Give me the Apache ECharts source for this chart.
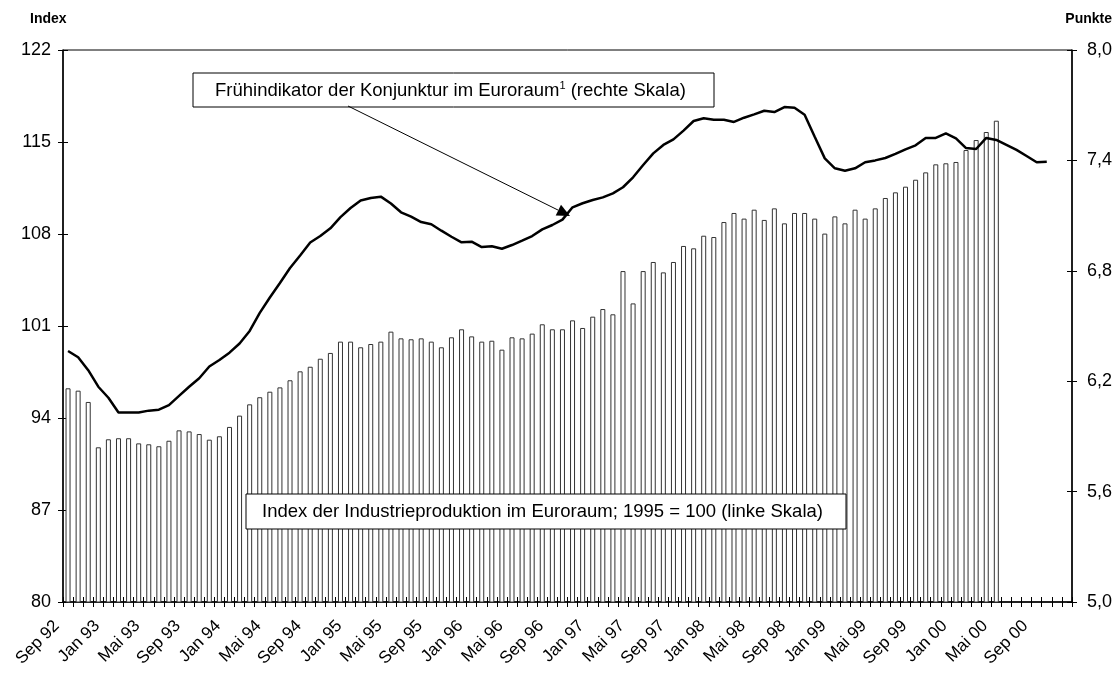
<!DOCTYPE html>
<html>
<head>
<meta charset="utf-8">
<script src="https://cdn.jsdelivr.net/npm/echarts@6/dist/echarts.min.js"></script>
<style>
html,body{margin:0;padding:0;background:#fff;}
#chart{width:1118px;height:676px;}
</style>
</head>
<body>
<div id="chart"></div>
<script>
// Month names (German) used to build category labels Sep 92 .. Dez 00
const monthNames = ['Jan','Feb','Mrz','Apr','Mai','Jun','Jul','Aug','Sep','Okt','Nov','Dez'];
const categories = [];
for (let i = 0; i < 100; i++) {
  const m = (8 + i) % 12;
  const y = 92 + Math.floor((8 + i) / 12);
  categories.push(monthNames[m] + ' ' + String(y % 100).padStart(2, '0'));
}

// Index der Industrieproduktion (linke Skala), Sep 92 .. Mai 00
const industrialProduction = [
  96.26, 96.08, 95.22, 91.77, 92.38, 92.46, 92.46, 92.07, 92.00, 91.85,
  92.27, 93.06, 92.98, 92.78, 92.35, 92.61, 93.32, 94.18, 95.04, 95.58,
  96.00, 96.33, 96.87, 97.55, 97.90, 98.51, 98.95, 99.81, 99.81, 99.38,
  99.63, 99.81, 100.57, 100.06, 99.99, 100.06, 99.81, 99.38, 100.14, 100.75,
  100.21, 99.81, 99.88, 99.20, 100.14, 100.06, 100.42, 101.13, 100.75, 100.75,
  101.43, 100.85, 101.71, 102.29, 101.89, 105.18, 102.72, 105.18, 105.87, 105.08,
  105.87, 107.09, 106.91, 107.87, 107.77, 108.91, 109.60, 109.17, 109.85, 109.07,
  109.95, 108.81, 109.60, 109.60, 109.17, 108.03, 109.34, 108.81, 109.85, 109.17,
  109.95, 110.74, 111.17, 111.60, 112.13, 112.69, 113.30, 113.38, 113.48, 114.39,
  115.15, 115.76, 116.62
];

// Frühindikator der Konjunktur (rechte Skala), Sep 92 .. Okt 00
const leadingIndicator = [
  6.364, 6.330, 6.260, 6.170, 6.110, 6.030, 6.030, 6.030, 6.040, 6.045,
  6.070, 6.120, 6.170, 6.216, 6.280, 6.315, 6.355, 6.405, 6.473, 6.571,
  6.655, 6.734, 6.815, 6.883, 6.954, 6.989, 7.031, 7.092, 7.141, 7.182,
  7.196, 7.203, 7.166, 7.118, 7.094, 7.065, 7.053, 7.018, 6.985, 6.955,
  6.958, 6.929, 6.933, 6.920, 6.940, 6.964, 6.989, 7.025, 7.049, 7.078,
  7.145, 7.167, 7.185, 7.199, 7.221, 7.254, 7.308, 7.375, 7.438, 7.484,
  7.514, 7.562, 7.614, 7.629, 7.621, 7.621, 7.609, 7.632, 7.650, 7.670,
  7.663, 7.690, 7.686, 7.648, 7.529, 7.411, 7.357, 7.344, 7.357, 7.390,
  7.400, 7.413, 7.435, 7.460, 7.482, 7.522, 7.522, 7.547, 7.520, 7.467,
  7.462, 7.522, 7.511, 7.484, 7.457, 7.424, 7.390, 7.393
];

const FONT = '"Liberation Sans", Arial, sans-serif';
const chart = echarts.init(document.getElementById('chart'), null, {renderer: 'canvas'});

// arrow geometry (annotation)
const ax0 = 348, ay0 = 106, ax1 = 570, ay1 = 216;
const ang = Math.atan2(ay1 - ay0, ax1 - ax0);
const headLen = 13, headW = 6;
const bx = ax1 - headLen * Math.cos(ang), by = ay1 - headLen * Math.sin(ang);
const arrowHead = [
  [ax1, ay1],
  [bx + headW * Math.sin(ang), by - headW * Math.cos(ang)],
  [bx - headW * Math.sin(ang), by + headW * Math.cos(ang)]
];

const tickStyle = {color: '#000', width: 1};
const rightFmt = v => v.toFixed(1).replace('.', ',');

chart.setOption({
  animation: false,
  backgroundColor: '#fff',
  grid: {left: 63, right: 46, top: 50, bottom: 74, show: true, borderColor: '#000', borderWidth: 1, backgroundColor: 'transparent'},
  xAxis: [
    {
      type: 'category', data: categories, boundaryGap: true,
      axisLine: {show: true, lineStyle: {color: '#000', width: 1.5}},
      axisTick: {show: true, interval: 0, length: 5, lineStyle: tickStyle},
      axisLabel: {interval: 3, rotate: 45, margin: 10, padding: [0, 16, 0, 0], color: '#000', fontSize: 17, fontFamily: FONT},
      splitLine: {show: false}
    },
    {
      type: 'category', data: categories, boundaryGap: true, position: 'bottom',
      axisLine: {show: false},
      axisTick: {show: true, inside: true, interval: 0, length: 5, lineStyle: tickStyle},
      axisLabel: {show: false},
      splitLine: {show: false}
    }
  ],
  yAxis: [
    {
      type: 'value', min: 80, max: 122, interval: 7, position: 'left',
      axisLine: {show: true, lineStyle: {color: '#000', width: 1.5}},
      axisTick: {show: true, length: 5, lineStyle: tickStyle},
      axisLabel: {color: '#000', fontSize: 18, fontFamily: FONT, margin: 12},
      splitLine: {show: false}
    },
    {
      type: 'value', min: 5, max: 8, interval: 0.6, position: 'right',
      axisLine: {show: true, lineStyle: {color: '#000', width: 1.5}},
      axisTick: {show: true, length: 5, lineStyle: tickStyle},
      axisLabel: {color: '#000', fontSize: 18, fontFamily: FONT, margin: 15, formatter: rightFmt},
      splitLine: {show: false}
    },
    {
      type: 'value', min: 80, max: 122, interval: 7, position: 'left',
      axisLine: {show: false}, axisLabel: {show: false}, splitLine: {show: false},
      axisTick: {show: true, inside: true, length: 5, lineStyle: tickStyle}
    },
    {
      type: 'value', min: 5, max: 8, interval: 0.6, position: 'right',
      axisLine: {show: false}, axisLabel: {show: false}, splitLine: {show: false},
      axisTick: {show: true, inside: true, length: 5, lineStyle: tickStyle}
    }
  ],
  series: [
    {
      name: 'Index der Industrieproduktion', type: 'bar', xAxisIndex: 0, yAxisIndex: 0,
      data: industrialProduction, barWidth: 5,
      itemStyle: {color: '#fff', borderColor: '#333', borderWidth: 1},
      z: 2
    },
    {
      name: 'Frühindikator', type: 'line', xAxisIndex: 0, yAxisIndex: 1,
      data: leadingIndicator, symbol: 'none', smooth: false,
      lineStyle: {color: '#000', width: 2.5},
      z: 3
    }
  ],
  graphic: [
    {type: 'text', left: 30, top: 12, style: {text: 'Index', fill: '#000', font: 'bold 14px ' + FONT}},
    {type: 'text', right: 6, top: 12, style: {text: 'Punkte', fill: '#000', font: 'bold 14px ' + FONT}},
    {type: 'rect', shape: {x: 193, y: 73, width: 521, height: 34}, style: {fill: '#fff', stroke: '#000', lineWidth: 1}, z: 10},
    {type: 'text', x: 215, y: 91, z: 11, style: {
      text: 'Frühindikator der Konjunktur im Euroraum{sup|1} (rechte Skala)',
      fill: '#000', font: '18.5px ' + FONT, verticalAlign: 'middle',
      rich: {sup: {fontSize: 11, fontFamily: FONT, fill: '#000', padding: [0, 0, 10, 0]}}
    }},
    {type: 'line', shape: {x1: ax0, y1: ay0, x2: bx, y2: by}, style: {stroke: '#000', lineWidth: 1}, z: 10},
    {type: 'polygon', shape: {points: arrowHead}, style: {fill: '#000'}, z: 10},
    {type: 'rect', shape: {x: 246, y: 494, width: 600, height: 35}, style: {fill: '#fff', stroke: '#000', lineWidth: 1}, z: 10},
    {type: 'text', x: 262, y: 512, z: 11, style: {
      text: 'Index der Industrieproduktion im Euroraum; 1995 = 100 (linke Skala)',
      fill: '#000', font: '18.5px ' + FONT, verticalAlign: 'middle'
    }}
  ]
});
</script>
</body>
</html>
